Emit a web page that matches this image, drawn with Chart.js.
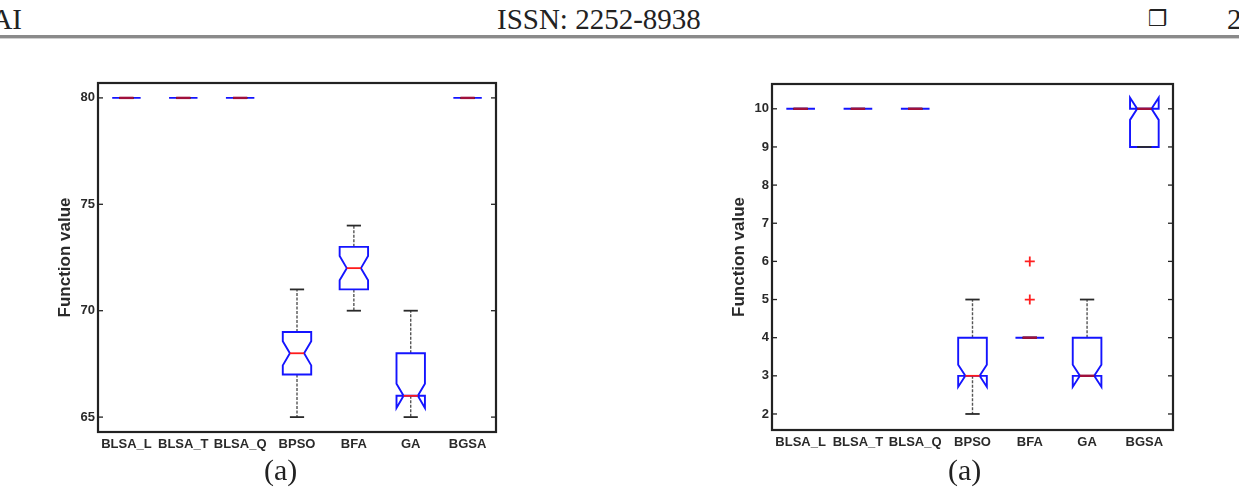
<!DOCTYPE html>
<html>
<head>
<meta charset="utf-8">
<script src="https://cdn.jsdelivr.net/npm/chart.js@4.4.1/dist/chart.umd.min.js"></script>
<style>
  body { margin: 0; width: 1239px; height: 496px; background: #fff; position: relative; overflow: hidden; font-family: 'Liberation Serif', 'DejaVu Serif', serif; color: #222; }
  .hdr { position: absolute; top: 5px; font-size: 29px; line-height: 28px; white-space: nowrap; }
  .rule { position: absolute; left: 0; top: 35px; width: 1239px; height: 3px; background: #8a8a8a; border-bottom: 1px solid #cfcfcf; }
  .cap { position: absolute; top: 455px; font-size: 30px; line-height: 30px; }
  canvas { position: absolute; }
</style>
</head>
<body>
<div class="hdr" style="right: 1217px;">AI</div>
<div class="hdr" style="left: 497px;">ISSN: 2252-8938</div>
<div class="hdr" style="left: 1148px; font-family: 'DejaVu Sans', sans-serif; font-size: 22px;">❒</div>
<div class="hdr" style="left: 1227px;">2</div>
<div class="rule"></div>

<canvas id="chartA" width="460" height="390" style="left: 50px; top: 70px;"></canvas>
<canvas id="chartB" width="470" height="390" style="left: 720px; top: 70px;"></canvas>

<div class="cap" style="left: 264px;">(a)</div>
<div class="cap" style="left: 948px;">(a)</div>

<script>
const categories = ['BLSA_L', 'BLSA_T', 'BLSA_Q', 'BPSO', 'BFA', 'GA', 'BGSA'];

// left plot
const leftTicks = [65, 70, 75, 80];
const leftMin = [80, 80, 80, 65, 70, 65, 80];
const leftQ1 = [80, 80, 80, 67, 71, 66, 80];
const leftMedian = [80, 80, 80, 68, 72, 66, 80];
const leftQ3 = [80, 80, 80, 69, 73, 68, 80];
const leftMax = [80, 80, 80, 71, 74, 70, 80];
const leftNotch = [0, 0, 0, 0.57, 0.57, 0.57, 0];
const leftOutliers = [];

// right plot
const rightTicks = [2, 3, 4, 5, 6, 7, 8, 9, 10];
const rightMin = [10, 10, 10, 2, 4, 3, 9];
const rightQ1 = [10, 10, 10, 3, 4, 3, 9];
const rightMedian = [10, 10, 10, 3, 4, 3, 10];
const rightQ3 = [10, 10, 10, 4, 4, 4, 10];
const rightMax = [10, 10, 10, 5, 4, 5, 10];
const rightNotch = [0, 0, 0, 0.29, 0, 0.29, 0.29];
const rightOutliers = [{ x: 'BFA', y: 5 }, { x: 'BFA', y: 6 }];

const axisFont = { family: "'Liberation Sans', Arial, sans-serif", size: 13, weight: 'bold' };

function seg(ctx, x1, y1, x2, y2) {
  ctx.beginPath();
  ctx.moveTo(x1, y1);
  ctx.lineTo(x2, y2);
  ctx.stroke();
}

// matlab style notched boxes, drawn through the chart scales
const boxPlugin = (stats, tickValues) => ({
  id: 'notchedBoxes',
  beforeDatasetsDraw(chart) {
    const { ctx, scales: { x, y } } = chart;
    const step = x.width / categories.length;
    const hw = step * 0.25, nw = hw * 0.5;
    const Y = v => y.getPixelForValue(v);
    ctx.save();
    categories.forEach((c, i) => {
      const cx = x.getPixelForValue(i);
      const q1 = stats.q1[i], m = stats.median[i], q3 = stats.q3[i], n = stats.notch[i];

      // whiskers
      ctx.setLineDash([3, 1.5]);
      ctx.strokeStyle = '#555';
      ctx.lineWidth = 1.4;
      if (stats.max[i] > q3) seg(ctx, cx, Y(q3), cx, Y(stats.max[i]));
      if (stats.min[i] < q1) seg(ctx, cx, Y(q1), cx, Y(stats.min[i]));
      ctx.setLineDash([]);

      // box outline with notch
      ctx.strokeStyle = '#1414ff';
      ctx.lineWidth = 1.9;
      ctx.beginPath();
      ctx.moveTo(cx - hw, Y(q1));
      ctx.lineTo(cx - hw, Y(m - n));
      ctx.lineTo(cx - nw, Y(m));
      ctx.lineTo(cx - hw, Y(m + n));
      ctx.lineTo(cx - hw, Y(q3));
      ctx.lineTo(cx + hw, Y(q3));
      ctx.lineTo(cx + hw, Y(m + n));
      ctx.lineTo(cx + nw, Y(m));
      ctx.lineTo(cx + hw, Y(m - n));
      ctx.lineTo(cx + hw, Y(q1));
      ctx.closePath();
      ctx.stroke();

      // whisker caps
      ctx.strokeStyle = '#2a2a2a';
      ctx.lineWidth = 1.8;
      seg(ctx, cx - nw, Y(stats.max[i]), cx + nw, Y(stats.max[i]));
      seg(ctx, cx - nw, Y(stats.min[i]), cx + nw, Y(stats.min[i]));

      // median, darker where it sits on a cap
      const onCap = m === stats.max[i] || m === stats.min[i];
      ctx.strokeStyle = onCap ? '#a0103c' : '#ff1a1a';
      ctx.lineWidth = onCap ? 2.4 : 1.8;
      seg(ctx, cx - nw, Y(m), cx + nw, Y(m));
    });
    ctx.restore();
  },
  afterDraw(chart) {
    const { ctx, chartArea: a, scales: { y } } = chart;
    ctx.save();
    ctx.strokeStyle = '#222';
    ctx.lineWidth = 2.2;
    ctx.strokeRect(a.left, a.top, a.right - a.left, a.bottom - a.top);
    ctx.lineWidth = 1.3;
    tickValues.forEach(v => {
      const py = y.getPixelForValue(v);
      seg(ctx, a.left, py, a.left + 5, py);
      seg(ctx, a.right - 5, py, a.right, py);
    });
    ctx.restore();
  }
});

function boxChart(id, stats, yMin, yMax, tickValues, outliers, geom) {
  return new Chart(document.getElementById(id), {
    type: 'line',
    data: {
      labels: categories,
      datasets: [
        { data: stats.median, showLine: false, pointRadius: 0 },
        { data: outliers, showLine: false, pointStyle: 'cross', pointRadius: 5, borderColor: '#ff2020', borderWidth: 1.8 }
      ]
    },
    options: {
      responsive: false,
      animation: false,
      layout: { padding: { top: geom.top, right: geom.right, left: 0, bottom: 0 } },
      plugins: { legend: { display: false }, tooltip: { enabled: false } },
      scales: {
        x: {
          type: 'category',
          offset: true,
          grid: { display: false, drawTicks: false },
          border: { display: false },
          ticks: { font: axisFont, color: '#2a2a2a', padding: 5, maxRotation: 0, autoSkip: false },
          afterFit: s => { s.height = geom.xHeight; }
        },
        y: {
          min: yMin,
          max: yMax,
          grid: { display: false, drawTicks: false },
          border: { display: false },
          ticks: { font: axisFont, color: '#2a2a2a', padding: 3, includeBounds: false },
          afterBuildTicks: s => { s.ticks = tickValues.map(v => ({ value: v })); },
          title: {
            display: true,
            text: 'Function value',
            font: { family: "'Liberation Sans', Arial, sans-serif", size: 17, weight: 'bold' },
            color: '#2a2a2a',
            padding: { top: geom.titlePad, bottom: 0 }
          },
          afterFit: s => { s.width = geom.yWidth; }
        }
      }
    },
    plugins: [boxPlugin(stats, tickValues)]
  });
}

boxChart('chartA',
  { min: leftMin, q1: leftQ1, median: leftMedian, q3: leftQ3, max: leftMax, notch: leftNotch },
  64.3, 80.7, leftTicks, leftOutliers,
  { top: 13, right: 14, xHeight: 28, yWidth: 48, titlePad: 5 });

boxChart('chartB',
  { min: rightMin, q1: rightQ1, median: rightMedian, q3: rightQ3, max: rightMax, notch: rightNotch },
  1.58, 10.65, rightTicks, rightOutliers,
  { top: 14, right: 17, xHeight: 30, yWidth: 52, titlePad: 9 });
</script>
</body>
</html>
